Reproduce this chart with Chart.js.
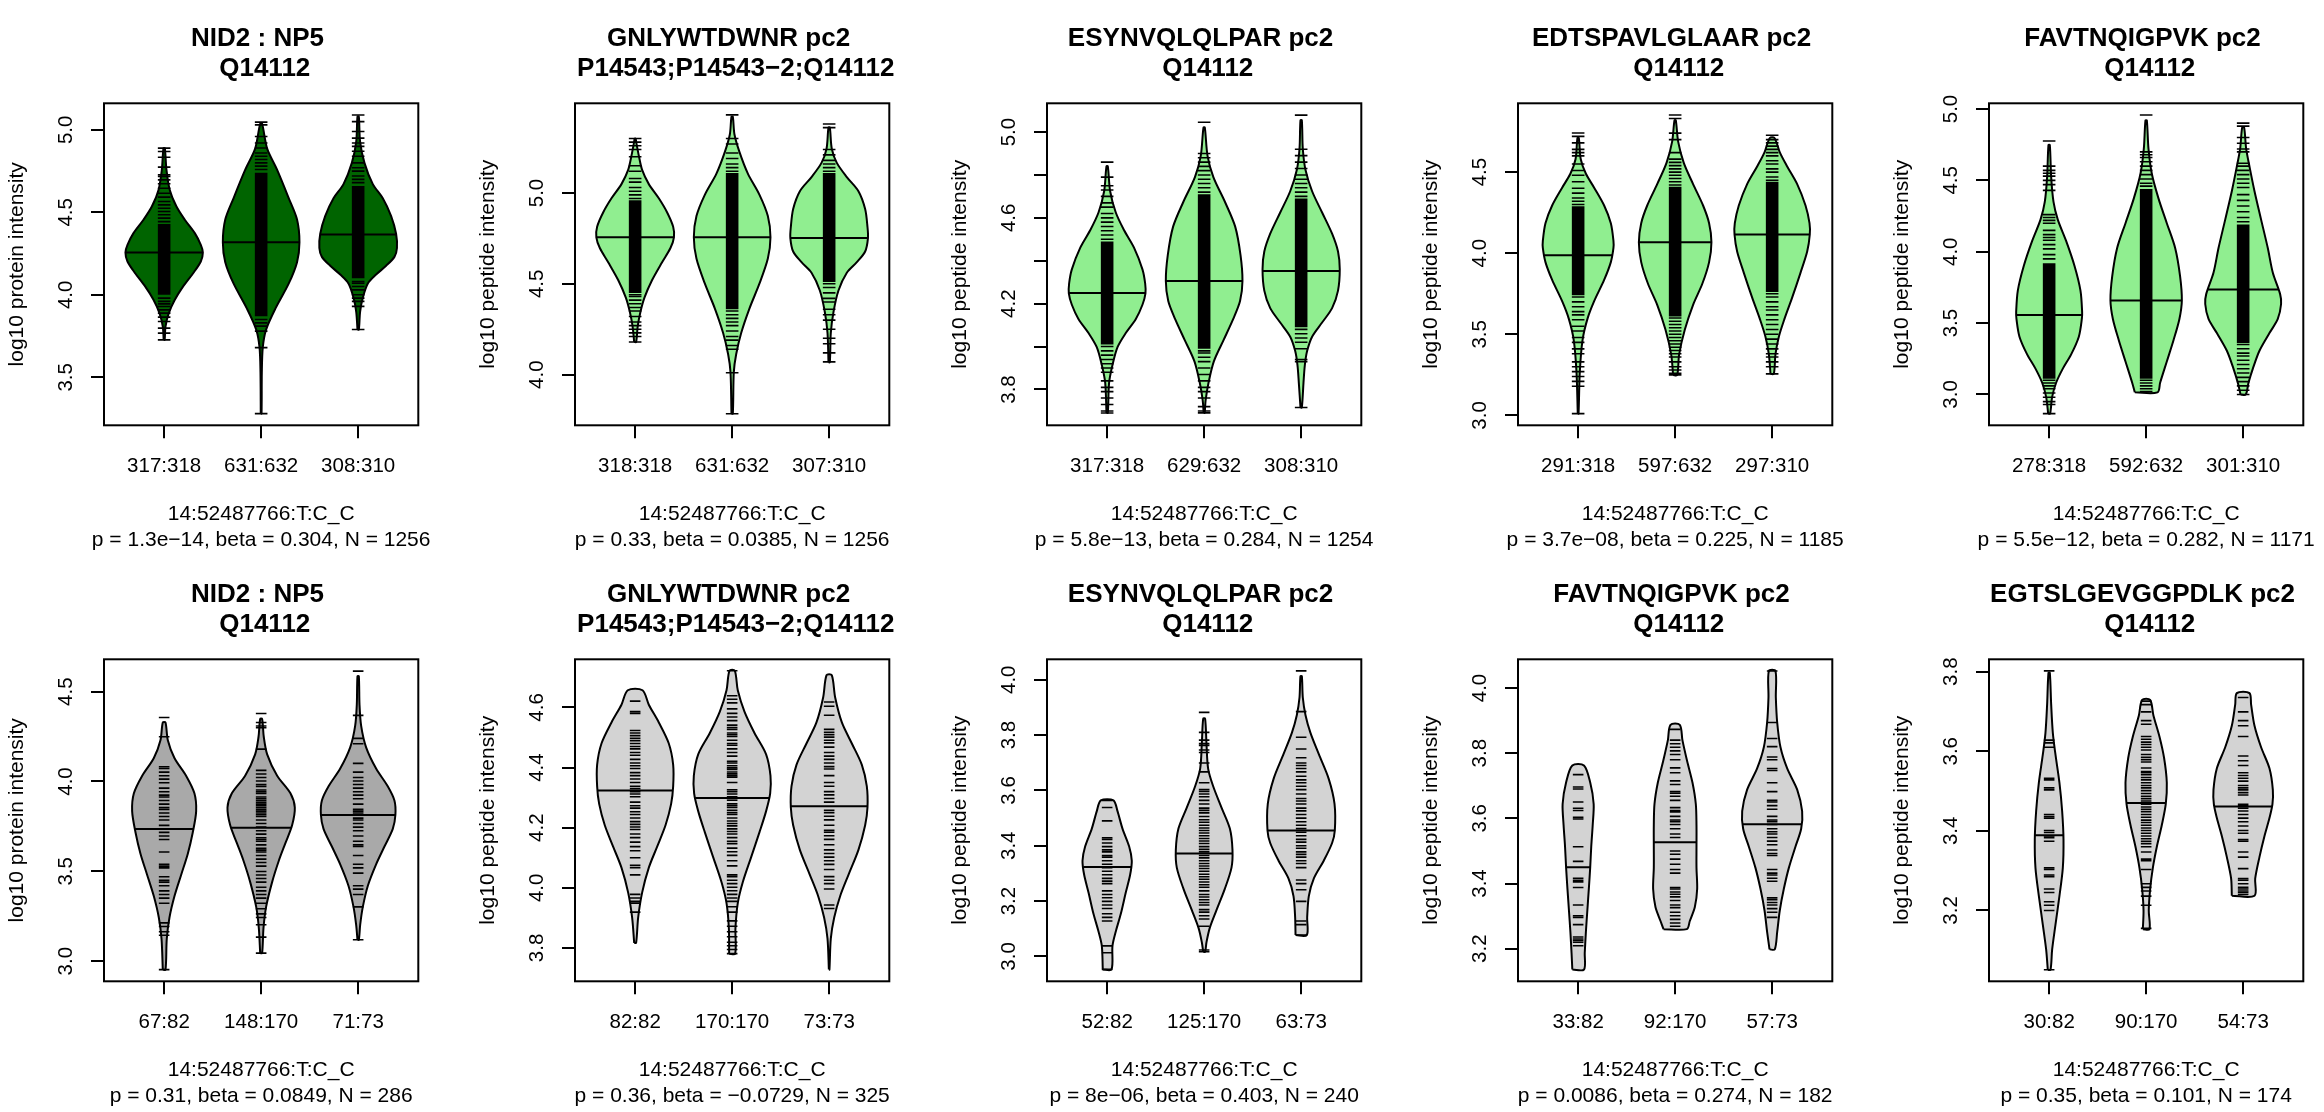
<!DOCTYPE html>
<html>
<head>
<meta charset="utf-8">
<script src="https://cdn.jsdelivr.net/npm/chart.js@4.4.0/dist/chart.umd.min.js"></script>
<style>
  body { margin: 0; width: 2324px; height: 1112px; overflow: hidden; background: #fff; position: relative; }
  .panel { position: absolute; width: 471px; height: 556px; }
</style>
</head>
<body>
<script>
// ---- panel texts ----
const titles = [
  ['NID2 : NP5', 'Q14112'],
  ['GNLYWTDWNR pc2', 'P14543;P14543\u22122;Q14112'],
  ['ESYNVQLQLPAR pc2', 'Q14112'],
  ['EDTSPAVLGLAAR pc2', 'Q14112'],
  ['FAVTNQIGPVK pc2', 'Q14112'],
  ['NID2 : NP5', 'Q14112'],
  ['GNLYWTDWNR pc2', 'P14543;P14543\u22122;Q14112'],
  ['ESYNVQLQLPAR pc2', 'Q14112'],
  ['FAVTNQIGPVK pc2', 'Q14112'],
  ['EGTSLGEVGGPDLK pc2', 'Q14112']
];
const snp = '14:52487766:T:C_C';
const stats = [
  'p = 1.3e\u221214, beta = 0.304, N = 1256',
  'p = 0.33, beta = 0.0385, N = 1256',
  'p = 5.8e\u221213, beta = 0.284, N = 1254',
  'p = 3.7e\u221208, beta = 0.225, N = 1185',
  'p = 5.5e\u221212, beta = 0.282, N = 1171',
  'p = 0.31, beta = 0.0849, N = 286',
  'p = 0.36, beta = \u22120.0729, N = 325',
  'p = 8e\u221206, beta = 0.403, N = 240',
  'p = 0.0086, beta = 0.274, N = 182',
  'p = 0.35, beta = 0.101, N = 174'
];
const yTitles = ['log10 protein intensity', 'log10 peptide intensity', 'log10 peptide intensity', 'log10 peptide intensity', 'log10 peptide intensity',
  'log10 protein intensity', 'log10 peptide intensity', 'log10 peptide intensity', 'log10 peptide intensity', 'log10 peptide intensity'];
const groupLabels = [
  ['317:318', '631:632', '308:310'],
  ['318:318', '631:632', '307:310'],
  ['317:318', '629:632', '308:310'],
  ['291:318', '597:632', '297:310'],
  ['278:318', '592:632', '301:310'],
  ['67:82', '148:170', '71:73'],
  ['82:82', '170:170', '73:73'],
  ['52:82', '125:170', '63:73'],
  ['33:82', '92:170', '57:73'],
  ['30:82', '90:170', '54:73']
];

// ---- axes ----
const yLimits = [[3.209, 5.161], [3.721, 5.494], [3.633, 5.134], [2.939, 4.924], [2.784, 5.040],
  [2.888, 4.680], [3.689, 4.760], [2.910, 4.074], [3.100, 4.088], [3.022, 3.831]];
const yTicks = [
  [3.5, 4, 4.5, 5], [4, 4.5, 5], [3.8, 4, 4.2, 4.4, 4.6, 4.8, 5], [3, 3.5, 4, 4.5], [3, 3.5, 4, 4.5, 5],
  [3, 3.5, 4, 4.5], [3.8, 4, 4.2, 4.4, 4.6], [3, 3.2, 3.4, 3.6, 3.8, 4], [3.2, 3.4, 3.6, 3.8, 4], [3.2, 3.4, 3.6, 3.8]
];
const yTickLabels = [
  ['3.5', '4.0', '4.5', '5.0'], ['4.0', '4.5', '5.0'], ['3.8', '', '4.2', '', '4.6', '', '5.0'], ['3.0', '3.5', '4.0', '4.5'], ['3.0', '3.5', '4.0', '4.5', '5.0'],
  ['3.0', '3.5', '4.0', '4.5'], ['3.8', '4.0', '4.2', '4.4', '4.6'], ['3.0', '3.2', '3.4', '3.6', '3.8', '4.0'], ['3.2', '3.4', '3.6', '3.8', '4.0'], ['3.2', '3.4', '3.6', '3.8']
];
const fills = ['#006400', '#90EE90', '#90EE90', '#90EE90', '#90EE90', '#A9A9A9', '#D3D3D3', '#D3D3D3', '#D3D3D3', '#D3D3D3'];

// ---- violin outlines: [y, half width, y, half width, ...] bottom to top ----
const outlines = [
  [[3.727,.005, 3.808,.014, 3.889,.048, 3.970,.11, 4.051,.196, 4.131,.299, 4.202,.378, 4.257,.399, 4.303,.378, 4.374,.316, 4.455,.213, 4.535,.127, 4.636,.058, 4.758,.024, 4.889,.007],
   [3.280,.004, 3.531,.007, 3.682,.017, 3.789,.051, 3.918,.148, 4.069,.285, 4.198,.37, 4.318,.395, 4.456,.37, 4.585,.285, 4.757,.165, 4.886,.062, 5.037,.01],
   [3.789,.007, 3.897,.02, 3.983,.048, 4.069,.1, 4.123,.185, 4.176,.288, 4.230,.374, 4.284,.4, 4.370,.391, 4.477,.34, 4.585,.254, 4.671,.151, 4.800,.065, 4.929,.02, 5.080,.007]],
  [[4.180,.01, 4.268,.027, 4.346,.055, 4.424,.096, 4.521,.175, 4.619,.278, 4.697,.364, 4.756,.4, 4.814,.392, 4.893,.33, 4.971,.244, 5.049,.141, 5.127,.072, 5.205,.038, 5.283,.01, 5.299,.005],
   [3.785,.007, 4.014,.017, 4.111,.041, 4.229,.093, 4.365,.179, 4.502,.282, 4.639,.368, 4.756,.395, 4.873,.368, 4.990,.282, 5.107,.162, 5.225,.076, 5.322,.024, 5.420,.007],
   [4.068,.007, 4.229,.017, 4.346,.045, 4.463,.096, 4.561,.182, 4.619,.285, 4.678,.371, 4.752,.4, 4.814,.395, 4.912,.371, 5.010,.302, 5.088,.182, 5.166,.079, 5.244,.027, 5.361,.007]],
  [[3.691,.007, 3.831,.02, 3.914,.055, 3.997,.107, 4.063,.192, 4.129,.296, 4.195,.364, 4.248,.395, 4.294,.392, 4.360,.364, 4.460,.278, 4.542,.175, 4.625,.089, 4.724,.031, 4.840,.007],
   [3.691,.005, 3.749,.015, 3.831,.045, 3.931,.1, 4.030,.2, 4.129,.3, 4.212,.37, 4.306,.395, 4.426,.375, 4.559,.32, 4.674,.215, 4.790,.095, 4.889,.035, 5.021,.007],
   [3.716,.007, 3.831,.024, 3.914,.038, 3.980,.062, 4.046,.113, 4.112,.216, 4.179,.319, 4.261,.38, 4.360,.398, 4.443,.38, 4.526,.319, 4.625,.216, 4.724,.113, 4.823,.045, 4.922,.017, 5.055,.007]],
  [[3.011,.004, 3.267,.017, 3.463,.045, 3.595,.096, 3.704,.165, 3.835,.268, 3.945,.337, 4.032,.364, 4.076,.364, 4.185,.337, 4.294,.268, 4.404,.165, 4.491,.079, 4.579,.027, 4.710,.007],
   [3.249,.021, 3.376,.041, 3.529,.1, 3.682,.185, 3.813,.281, 3.945,.35, 4.067,.374, 4.185,.35, 4.294,.288, 4.426,.185, 4.557,.089, 4.688,.031, 4.819,.007],
   [3.256,.017, 3.376,.034, 3.485,.069, 3.595,.127, 3.726,.206, 3.879,.292, 4.010,.361, 4.115,.388, 4.185,.385, 4.294,.344, 4.426,.258, 4.535,.155, 4.622,.079, 4.710,.024]],
  [[2.866,.01, 2.983,.031, 3.082,.072, 3.181,.141, 3.281,.227, 3.405,.306, 3.529,.337, 3.579,.34, 3.728,.323, 3.902,.261, 4.076,.175, 4.225,.089, 4.349,.045, 4.523,.021, 4.747,.007],
   [3.015,.117, 3.082,.144, 3.231,.213, 3.380,.282, 3.529,.343, 3.658,.368, 3.827,.35, 4.026,.299, 4.200,.213, 4.374,.127, 4.548,.058, 4.722,.024, 4.920,.007],
   [3.000,.027, 3.082,.055, 3.181,.1, 3.306,.168, 3.430,.271, 3.529,.357, 3.634,.391, 3.703,.381, 3.852,.306, 4.026,.254, 4.225,.185, 4.424,.117, 4.598,.065, 4.722,.031, 4.871,.01]],
  [[2.953,.014, 3.124,.027, 3.243,.055, 3.361,.106, 3.480,.175, 3.598,.244, 3.716,.295, 3.835,.33, 3.934,.312, 4.032,.226, 4.131,.106, 4.230,.038, 4.328,.014],
   [3.045,.01, 3.184,.024, 3.302,.051, 3.440,.113, 3.559,.182, 3.657,.25, 3.756,.319, 3.855,.347, 3.934,.302, 4.032,.165, 4.151,.062, 4.249,.027, 4.348,.01],
   [3.119,.007, 3.203,.021, 3.302,.048, 3.420,.1, 3.539,.185, 3.638,.271, 3.736,.357, 3.815,.384, 3.894,.374, 3.973,.305, 4.072,.185, 4.190,.082, 4.309,.031, 4.427,.014, 4.585,.007]],
  [[3.817,.01, 3.901,.031, 3.984,.072, 4.067,.141, 4.137,.227, 4.208,.313, 4.279,.371, 4.338,.392, 4.409,.392, 4.480,.347, 4.550,.244, 4.609,.141, 4.657,.076],
   [3.781,.031, 3.866,.034, 3.949,.058, 4.019,.11, 4.102,.196, 4.185,.282, 4.255,.35, 4.314,.392, 4.373,.395, 4.444,.35, 4.515,.23, 4.586,.127, 4.657,.058, 4.722,.027],
   [3.728,.003, 3.831,.017, 3.901,.052, 3.972,.113, 4.043,.199, 4.126,.302, 4.208,.371, 4.267,.395, 4.338,.388, 4.409,.337, 4.480,.234, 4.550,.131, 4.633,.062, 4.707,.027]],
  [[2.953,.045, 3.038,.055, 3.090,.089, 3.154,.141, 3.231,.192, 3.295,.237, 3.346,.254, 3.397,.227, 3.462,.158, 3.526,.106, 3.564,.065],
   [3.017,.01, 3.051,.024, 3.103,.058, 3.167,.127, 3.244,.213, 3.321,.282, 3.385,.292, 3.462,.265, 3.538,.179, 3.615,.093, 3.679,.041, 3.769,.024, 3.859,.01],
   [3.077,.058, 3.141,.062, 3.218,.079, 3.282,.131, 3.346,.233, 3.410,.319, 3.455,.347, 3.551,.344, 3.641,.285, 3.731,.182, 3.808,.096, 3.872,.045, 3.936,.017, 4.013,.007]],
  [[3.136,.06, 3.187,.068, 3.252,.08, 3.318,.095, 3.383,.11, 3.448,.124, 3.513,.135, 3.579,.15, 3.644,.16, 3.709,.125, 3.762,.06],
   [3.260,.12, 3.285,.151, 3.328,.203, 3.383,.227, 3.448,.22, 3.513,.22, 3.579,.22, 3.644,.213, 3.709,.179, 3.775,.124, 3.840,.075, 3.887,.048],
   [3.198,.027, 3.252,.052, 3.318,.079, 3.383,.12, 3.448,.172, 3.513,.24, 3.568,.299, 3.622,.309, 3.688,.258, 3.753,.155, 3.818,.086, 3.894,.052, 3.971,.038, 4.052,.034]],
  [[3.051,.014, 3.102,.031, 3.164,.065, 3.236,.106, 3.307,.141, 3.378,.148, 3.450,.134, 3.521,.106, 3.592,.065, 3.646,.038, 3.717,.021, 3.797,.007],
   [3.153,.034, 3.200,.027, 3.253,.041, 3.307,.069, 3.360,.11, 3.414,.161, 3.467,.202, 3.521,.213, 3.583,.185, 3.637,.137, 3.690,.075, 3.729,.041],
   [3.237,.117, 3.280,.124, 3.334,.168, 3.387,.22, 3.432,.271, 3.467,.302, 3.503,.306, 3.557,.271, 3.610,.185, 3.664,.117, 3.717,.082, 3.746,.065]]
];

// ---- group averages ----
const means = [
  [4.257, 4.318, 4.365], [4.756, 4.756, 4.752], [4.250, 4.306, 4.352], [3.988, 4.067, 4.115], [3.556, 3.658, 3.735],
  [3.736, 3.742, 3.813], [4.324, 4.299, 4.271], [3.323, 3.372, 3.455], [3.450, 3.527, 3.582], [3.389, 3.470, 3.461]
];

// ---- dense bean bands (top row, too many lines to tell apart) ----
const cores = [
  [[4.0, 4.43], [3.87, 4.74], [4.10, 4.66]],
  [[4.45, 4.96], [4.36, 5.11], [4.51, 5.11]],
  [[4.01, 4.49], [3.99, 4.71], [4.09, 4.69]],
  [[3.74, 4.29], [3.61, 4.41], [3.76, 4.44]],
  [[3.11, 3.92], [3.11, 4.44], [3.36, 4.19]],
  null, null, null, null, null
];

// ---- individual bean lines ----
const beans = [
  [[4.889,4.869,4.834,4.774,4.727,4.717,4.697,4.673,4.646,4.616,4.592,4.566,4.545,4.525,4.505,4.485,4.465,4.444,3.980,3.960,3.945,3.929,3.909,3.889,3.865,3.838,3.798,3.768,3.727],
   [5.047,5.03,4.96,4.92,4.89,4.86,4.84,4.82,4.80,4.78,4.76,3.85,3.83,3.81,3.78,3.68,3.28],
   [5.09,5.05,4.99,4.95,4.92,4.90,4.87,4.84,4.80,4.77,4.75,4.72,4.70,4.68,4.08,4.07,4.05,4.03,4.0,3.98,3.96,3.93,3.79]],
  [[5.30,5.28,5.26,5.24,5.20,5.15,5.12,5.08,5.06,5.03,5.01,4.99,4.97,4.44,4.43,4.41,4.39,4.37,4.35,4.32,4.29,4.27,4.25,4.23,4.21,4.18],
   [5.43,5.30,5.27,5.22,5.19,5.16,5.14,5.12,4.35,4.33,4.31,4.29,4.27,4.24,4.21,4.19,4.16,4.14,4.01,3.785],
   [5.38,5.36,5.24,5.21,5.18,5.16,5.14,5.12,4.50,4.48,4.45,4.42,4.40,4.36,4.33,4.30,4.25,4.20,4.17,4.12,4.07]],
  [[4.86,4.79,4.75,4.73,4.70,4.67,4.65,4.62,4.60,4.58,4.56,4.54,4.52,4.50,4.00,3.98,3.96,3.94,3.92,3.90,3.88,3.84,3.81,3.79,3.76,3.73,3.70,3.69],
   [5.046,4.90,4.88,4.86,4.84,4.82,4.80,4.78,4.76,4.74,4.72,3.98,3.97,3.95,3.93,3.90,3.87,3.84,3.81,3.79,3.76,3.72,3.70,3.691],
   [5.079,4.92,4.89,4.86,4.83,4.80,4.78,4.76,4.74,4.72,4.70,4.08,4.06,4.04,4.02,3.99,3.94,3.93,3.716]],
  [[4.741,4.72,4.68,4.64,4.62,4.60,4.55,4.51,4.48,4.44,4.40,4.37,4.34,4.32,4.30,3.73,3.70,3.67,3.64,3.62,3.59,3.55,3.52,3.48,3.45,3.41,3.38,3.33,3.30,3.27,3.24,3.21,3.18,3.011],
   [4.852,4.83,4.74,4.70,4.62,4.58,4.56,4.54,4.52,4.50,4.48,4.46,4.44,4.42,3.60,3.58,3.56,3.54,3.52,3.50,3.48,3.46,3.44,3.42,3.40,3.38,3.36,3.33,3.30,3.28,3.26,3.25],
   [4.727,4.70,4.68,4.66,4.64,4.62,4.60,4.57,4.55,4.52,4.50,4.47,4.45,3.75,3.73,3.70,3.67,3.65,3.62,3.59,3.56,3.53,3.50,3.47,3.44,3.41,3.38,3.36,3.33,3.30,3.256]],
  [[4.776,4.60,4.57,4.55,4.53,4.50,4.47,4.43,4.26,4.24,4.22,4.20,4.15,4.12,4.10,4.08,4.05,4.02,3.98,3.95,3.10,3.08,3.06,3.04,3.01,2.98,2.95,2.93,2.866],
   [4.958,4.70,4.68,4.66,4.63,4.60,4.57,4.54,4.51,4.48,4.46,3.10,3.08,3.06,3.04,3.02],
   [4.901,4.88,4.80,4.76,4.72,4.70,4.62,4.60,4.57,4.54,4.51,4.48,4.45,4.40,4.36,4.32,4.28,4.24,4.21,3.35,3.32,3.29,3.27,3.24,3.21,3.18,3.15,3.12,3.09,3.06,3.03,3.0]],
  [[4.356,4.249,4.082,4.072,4.052,4.032,4.013,3.993,3.963,3.943,3.924,3.914,3.894,3.874,3.855,3.845,3.825,3.805,3.786,3.756,3.736,3.717,3.697,3.677,3.608,3.539,3.529,3.519,3.470,3.450,3.440,3.420,3.391,3.371,3.351,3.322,3.213,3.193,3.164,3.144,2.953],
   [4.378,4.328,4.309,4.299,4.180,4.062,4.042,4.022,4.003,3.983,3.973,3.953,3.943,3.934,3.914,3.904,3.894,3.884,3.874,3.865,3.855,3.845,3.835,3.825,3.815,3.805,3.786,3.766,3.746,3.726,3.707,3.687,3.677,3.667,3.647,3.628,3.618,3.608,3.588,3.568,3.549,3.529,3.499,3.480,3.460,3.440,3.411,3.391,3.371,3.351,3.322,3.292,3.263,3.243,3.203,3.134,3.045],
   [4.614,4.368,4.240,4.210,4.101,4.052,4.022,4.003,3.983,3.963,3.943,3.924,3.904,3.874,3.845,3.835,3.825,3.815,3.796,3.786,3.766,3.746,3.726,3.697,3.667,3.647,3.638,3.588,3.539,3.519,3.490,3.420,3.401,3.371,3.302,3.119]],
  [[4.621,4.586,4.580,4.523,4.515,4.506,4.497,4.489,4.480,4.470,4.462,4.450,4.441,4.427,4.415,4.406,4.397,4.383,4.373,4.362,4.350,4.338,4.330,4.320,4.312,4.303,4.285,4.273,4.265,4.253,4.244,4.232,4.220,4.211,4.202,4.194,4.179,4.167,4.152,4.137,4.123,4.100,4.075,4.067,4.043,3.978,3.966,3.955,3.949,3.919],
   [4.722,4.639,4.627,4.615,4.595,4.580,4.568,4.556,4.541,4.533,4.527,4.515,4.509,4.503,4.491,4.480,4.474,4.462,4.450,4.438,4.421,4.415,4.406,4.399,4.394,4.385,4.379,4.373,4.368,4.350,4.326,4.320,4.312,4.303,4.297,4.291,4.279,4.273,4.267,4.258,4.250,4.244,4.232,4.222,4.214,4.206,4.196,4.187,4.179,4.167,4.155,4.147,4.132,4.120,4.108,4.090,4.073,4.043,4.037,4.025,4.014,4.002,3.990,3.978,3.966,3.955,3.937,3.919,3.890,3.872,3.854,3.837,3.819,3.807,3.795,3.781],
   [4.618,4.604,4.574,4.527,4.517,4.509,4.501,4.491,4.482,4.468,4.450,4.438,4.427,4.415,4.403,4.395,4.373,4.350,4.338,4.320,4.309,4.297,4.285,4.258,4.250,4.238,4.226,4.208,4.191,4.185,4.173,4.161,4.143,4.126,4.114,4.102,4.090,4.078,4.061,4.037,4.025,4.014,3.996,3.943,3.931]],
  [[3.564,3.538,3.490,3.429,3.423,3.410,3.397,3.385,3.378,3.365,3.359,3.346,3.333,3.321,3.308,3.295,3.282,3.272,3.263,3.237,3.224,3.212,3.199,3.186,3.173,3.154,3.141,3.128,3.038,3.013,2.953],
   [3.882,3.810,3.782,3.769,3.763,3.746,3.737,3.699,3.667,3.628,3.603,3.596,3.587,3.577,3.564,3.551,3.536,3.528,3.519,3.506,3.494,3.485,3.474,3.464,3.455,3.446,3.436,3.426,3.417,3.408,3.397,3.387,3.378,3.365,3.356,3.346,3.336,3.327,3.318,3.308,3.297,3.288,3.279,3.269,3.259,3.250,3.237,3.224,3.215,3.205,3.195,3.186,3.169,3.160,3.147,3.135,3.109,3.023,3.017],
   [4.032,3.885,3.792,3.750,3.718,3.699,3.690,3.679,3.667,3.651,3.638,3.628,3.615,3.603,3.587,3.571,3.562,3.551,3.536,3.526,3.513,3.500,3.487,3.474,3.462,3.449,3.436,3.423,3.413,3.400,3.391,3.378,3.369,3.359,3.346,3.336,3.321,3.276,3.263,3.241,3.199,3.128,3.115,3.077]],
  [[3.734,3.696,3.690,3.650,3.631,3.624,3.603,3.598,3.513,3.468,3.416,3.410,3.405,3.388,3.334,3.301,3.296,3.274,3.236,3.230,3.225,3.220,3.209],
   [3.873,3.840,3.829,3.818,3.807,3.796,3.780,3.755,3.740,3.715,3.704,3.682,3.677,3.668,3.655,3.633,3.624,3.620,3.606,3.595,3.590,3.581,3.568,3.552,3.541,3.500,3.490,3.475,3.459,3.443,3.432,3.388,3.383,3.374,3.367,3.359,3.348,3.334,3.326,3.312,3.301,3.290,3.279,3.269],
   [4.052,3.894,3.845,3.820,3.788,3.780,3.753,3.747,3.709,3.682,3.655,3.650,3.639,3.628,3.606,3.595,3.590,3.581,3.568,3.559,3.552,3.541,3.530,3.519,3.503,3.492,3.486,3.443,3.432,3.426,3.416,3.407,3.356,3.350,3.342,3.334,3.323,3.312,3.296]],
  [[3.802,3.628,3.621,3.610,3.532,3.528,3.508,3.503,3.441,3.436,3.432,3.401,3.396,3.387,3.383,3.374,3.307,3.303,3.289,3.285,3.254,3.245,3.222,3.213,3.200,3.051],
   [3.726,3.717,3.699,3.677,3.668,3.637,3.630,3.623,3.617,3.610,3.603,3.592,3.585,3.579,3.573,3.558,3.549,3.546,3.541,3.534,3.528,3.521,3.514,3.508,3.501,3.494,3.487,3.481,3.475,3.467,3.460,3.454,3.448,3.441,3.434,3.427,3.421,3.414,3.407,3.401,3.394,3.387,3.380,3.374,3.368,3.360,3.347,3.329,3.325,3.303,3.267,3.258,3.249,3.236,3.213,3.155],
   [3.735,3.699,3.677,3.664,3.637,3.588,3.576,3.564,3.546,3.539,3.532,3.525,3.514,3.508,3.503,3.496,3.490,3.467,3.463,3.457,3.450,3.441,3.432,3.423,3.412,3.401,3.394,3.378,3.374,3.347,3.334,3.305,3.280,3.276,3.267,3.258,3.254,3.249,3.245,3.240]]
];

const FONT = '"Liberation Sans", Arial, Helvetica, sans-serif';
const PANEL_W = 471.3, PANEL_H = 556;

function violinPath(g, ol) {
  const left = [], right = [];
  for (let i = 0; i < ol.length; i += 2) {
    left.push({x: g - ol[i + 1], y: ol[i]});
    right.unshift({x: g + ol[i + 1], y: ol[i]});
  }
  return left.concat(right, [left[0]]);
}

function widthAt(ol, y) {
  for (let i = 2; i < ol.length; i += 2) {
    if (ol[i] >= y) {
      const t = (y - ol[i - 2]) / (ol[i] - ol[i - 2]);
      return ol[i - 1] + t * (ol[i + 1] - ol[i - 1]);
    }
  }
  return ol[ol.length - 1];
}

// box, titles, tick labels and axis title (R base-graphics look)
const panelText = {
  id: 'panelText',
  afterDraw(chart, args, opts) {
    const p = opts.p;
    const {ctx, chartArea: a, scales} = chart;
    const cx = (a.left + a.right) / 2;
    ctx.save();
    ctx.strokeStyle = '#000';
    ctx.lineWidth = 2;
    ctx.strokeRect(a.left, a.top, a.right - a.left, a.bottom - a.top);
    ctx.fillStyle = '#000';
    ctx.textAlign = 'center';
    ctx.textBaseline = 'alphabetic';

    ctx.font = 'bold 26px ' + FONT;
    ctx.fillText(titles[p][0] + ' ', cx, a.top - 57.2);
    ctx.fillText(' ' + titles[p][1], cx, a.top - 27);

    ctx.font = '20.5px ' + FONT;
    groupLabels[p].forEach((lab, i) => {
      ctx.fillText(lab, scales.x.getPixelForValue(i + 1), a.bottom + 46.3);
    });

    ctx.font = '21px ' + FONT;
    ctx.fillText(snp, cx, a.bottom + 94.9);
    ctx.fillText(stats[p], cx, a.bottom + 120.8);

    ctx.textBaseline = 'middle';
    ctx.font = '20.5px ' + FONT;
    yTicks[p].forEach((v, i) => {
      if (!yTickLabels[p][i]) return;
      ctx.save();
      ctx.translate(a.left - 38, scales.y.getPixelForValue(v));
      ctx.rotate(-Math.PI / 2);
      ctx.fillText(yTickLabels[p][i], 0, 0);
      ctx.restore();
    });

    ctx.font = '21px ' + FONT;
    ctx.translate(a.left - 87, (a.top + a.bottom) / 2);
    ctx.rotate(-Math.PI / 2);
    ctx.fillText(yTitles[p], 0, 0);
    ctx.restore();
  }
};

for (let p = 0; p < 10; p++) {
  const row = Math.floor(p / 5), col = p % 5;
  const holder = document.createElement('div');
  holder.className = 'panel';
  holder.style.left = Math.round(col * PANEL_W) + 'px';
  holder.style.top = (row * PANEL_H) + 'px';
  const cv = document.createElement('canvas');
  cv.width = 471; cv.height = 556;
  cv.style.width = '471px'; cv.style.height = '556px';
  holder.appendChild(cv);
  document.body.appendChild(holder);

  const beanR = row === 0 ? 6.3 : 5.3;
  const datasets = [];
  for (let g = 0; g < 3; g++) {
    const x = g + 1;
    const ol = outlines[p][g];
    datasets.push({
      data: violinPath(x, ol), showLine: true, fill: 'shape', tension: 0.3,
      backgroundColor: fills[p], borderColor: '#000', borderWidth: 2,
      pointRadius: 0, order: 4
    });
    if (cores[p]) {
      datasets.push({
        data: [{x: x, y: cores[p][g][0]}, {x: x, y: cores[p][g][1]}],
        showLine: true, fill: false, borderColor: '#000', borderWidth: 12.6,
        borderCapStyle: 'butt', pointRadius: 0, order: 3
      });
    }
    datasets.push({
      data: beans[p][g].map(v => ({x: x, y: v})),
      showLine: false, pointStyle: 'line', pointRadius: beanR,
      pointBorderWidth: 1.6, pointBorderColor: '#000',
      pointBackgroundColor: '#000', order: 2
    });
    const m = means[p][g];
    const w = widthAt(ol, m);
    datasets.push({
      data: [{x: x - w, y: m}, {x: x + w, y: m}],
      showLine: true, fill: false, borderColor: '#000', borderWidth: 2,
      pointRadius: 0, order: 1
    });
  }

  new Chart(cv, {
    type: 'scatter',
    data: {datasets},
    options: {
      responsive: false,
      animation: false,
      events: [],
      layout: {padding: {top: 103.3, right: 52.7, left: 0, bottom: 0}},
      scales: {
        x: {
          type: 'linear', min: 0.38, max: 3.62,
          afterBuildTicks: s => { s.ticks = [1, 2, 3].map(v => ({value: v})); },
          afterFit: s => { s.height = 130.7; },
          ticks: {display: false},
          border: {display: false},
          grid: {display: true, drawOnChartArea: false, drawTicks: true, tickLength: 13, color: '#000', lineWidth: 2}
        },
        y: {
          type: 'linear', min: yLimits[p][0], max: yLimits[p][1],
          afterBuildTicks: s => { s.ticks = yTicks[p].map(v => ({value: v})); },
          afterFit: s => { s.width = 104; },
          ticks: {display: false},
          border: {display: false},
          grid: {display: true, drawOnChartArea: false, drawTicks: true, tickLength: 13, color: '#000', lineWidth: 2}
        }
      },
      plugins: {
        legend: {display: false},
        tooltip: {enabled: false},
        panelText: {p: p}
      }
    },
    plugins: [panelText]
  });
}
</script>
</body>
</html>
